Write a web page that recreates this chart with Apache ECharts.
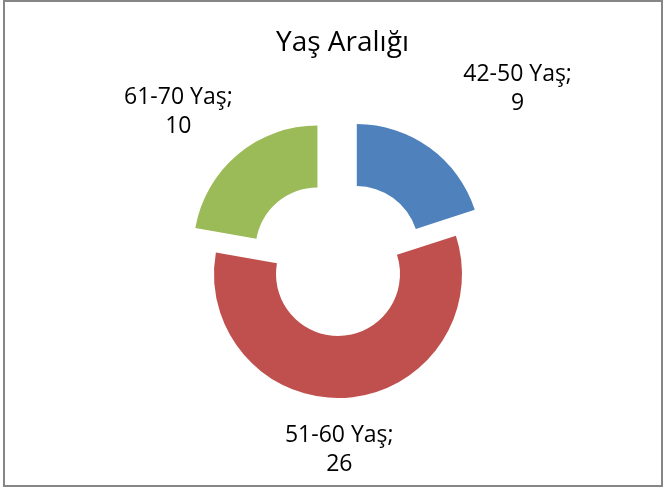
<!DOCTYPE html>
<html>
<head>
<meta charset="utf-8">
<script src="https://cdn.jsdelivr.net/npm/echarts@6/dist/echarts.min.js"></script>
<style>
  html, body { margin: 0; padding: 0; background: #fff; }
  #chart { width: 664px; height: 489px; }
</style>
</head>
<body>
<div id="chart"></div>
<script>
const titleText = "Yaş Aralığı";
const categories = ["42-50 Yaş", "51-60 Yaş", "61-70 Yaş"];
const values = [9, 26, 10];
const exploded = [true, false, true];
const colors = ["#4F81BD", "#C0504D", "#9BBB59"];
// label line lengths only steer where each label sits (line itself hidden)
const labelLen = [73, 52, 55];
const labelLen2 = [40, -16, 19];

const chart = echarts.init(document.getElementById("chart"));

const option = {
  animation: false,
  title: {
    text: titleText,
    left: 271,
    top: 24,
    textStyle: {
      fontFamily: "Open Sans",
      fontSize: 28,
      fontWeight: "normal",
      color: "#000"
    }
  },
  graphic: [
    {
      type: "rect",
      shape: { x: 4, y: 1, width: 658, height: 485 },
      style: { fill: "none", stroke: "#868686", lineWidth: 2 },
      silent: true
    }
  ],
  series: [
    {
      type: "pie",
      center: [338, 274],
      radius: [62, 124],
      startAngle: 90,
      clockwise: true,
      selectedMode: "multiple",
      selectedOffset: 32,
      avoidLabelOverlap: false,
      emphasis: { disabled: true },
      select: { itemStyle: { borderWidth: 0 } },
      label: {
        show: true,
        position: "outside",
        formatter: "{b};\n{c}",
        fontFamily: "Open Sans",
        fontSize: 23,
        lineHeight: 29,
        color: "#000"
      },
      labelLine: { show: false },
      labelLayout: { align: "center" },
      data: categories.map((name, i) => ({
        name: name,
        value: values[i],
        selected: exploded[i],
        itemStyle: { color: colors[i] },
        labelLine: { show: false, length: labelLen[i], length2: labelLen2[i] }
      }))
    }
  ]
};

chart.setOption(option);
</script>
</body>
</html>
